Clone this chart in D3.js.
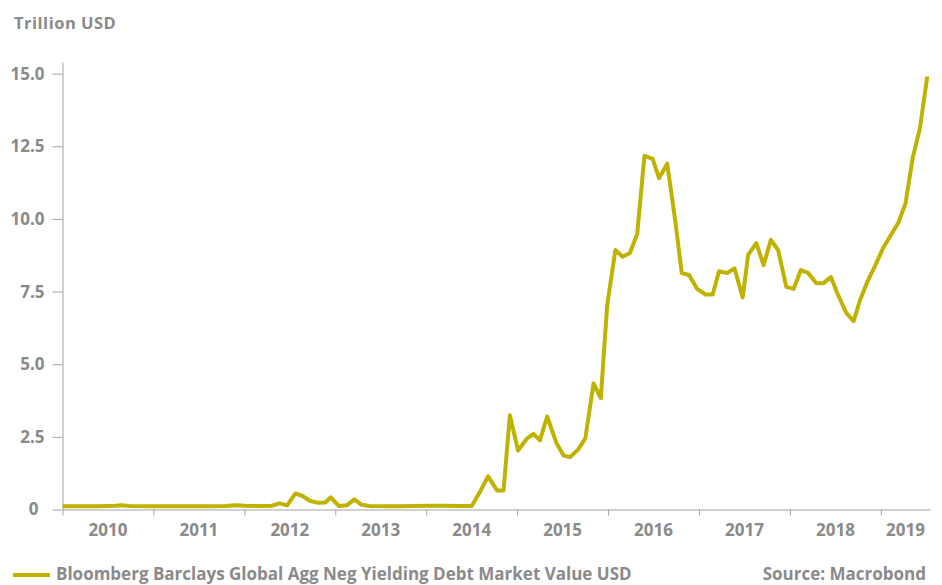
<!DOCTYPE html>
<html>
<head>
<meta charset="utf-8">
<script src="https://cdn.jsdelivr.net/npm/d3@7"></script>
<style>
  html, body { margin: 0; padding: 0; background: #ffffff; }
  svg text { font-family: "Open Sans", "Noto Sans", sans-serif; font-weight: 700; fill: #8a8a8a; }
</style>
</head>
<body>
<svg id="chart" width="942" height="585"></svg>
<script>
// ---- data ----
const years = [
  2010.00, 2010.19, 2010.41, 2010.58, 2010.65, 2010.74, 2010.96, 2011.18, 2011.40, 2011.62,
  2011.79, 2011.90, 2012.01, 2012.17, 2012.30, 2012.39, 2012.47, 2012.56, 2012.63, 2012.72,
  2012.81, 2012.89, 2012.95, 2013.04, 2013.13, 2013.21, 2013.29, 2013.38, 2013.55, 2013.71,
  2013.88, 2014.04, 2014.21, 2014.35, 2014.50, 2014.59, 2014.68, 2014.78, 2014.85, 2014.92,
  2015.01, 2015.11, 2015.18, 2015.25, 2015.33, 2015.43, 2015.51, 2015.58, 2015.67, 2015.75,
  2015.84, 2015.92, 2015.99, 2016.08, 2016.16, 2016.24, 2016.32, 2016.40, 2016.49, 2016.56,
  2016.65, 2016.74, 2016.81, 2016.89, 2016.98, 2017.07, 2017.15, 2017.22, 2017.31, 2017.39,
  2017.48, 2017.54, 2017.63, 2017.71, 2017.79, 2017.87, 2017.96, 2018.04, 2018.12, 2018.20,
  2018.29, 2018.37, 2018.45, 2018.52, 2018.62, 2018.70, 2018.77, 2018.85, 2018.94, 2019.02,
  2019.11, 2019.19, 2019.27, 2019.35, 2019.43, 2019.51
];
const values = [
  0.11, 0.11, 0.11, 0.13, 0.15, 0.12, 0.11, 0.11, 0.11, 0.11,
  0.12, 0.15, 0.13, 0.12, 0.13, 0.21, 0.14, 0.55, 0.48, 0.30,
  0.23, 0.24, 0.42, 0.12, 0.15, 0.35, 0.16, 0.12, 0.11, 0.11,
  0.12, 0.13, 0.13, 0.12, 0.12, 0.60, 1.14, 0.65, 0.65, 3.24,
  2.03, 2.45, 2.60, 2.38, 3.20, 2.30, 1.86, 1.80, 2.06, 2.45,
  4.34, 3.83, 7.03, 8.93, 8.70, 8.83, 9.48, 12.17, 12.07, 11.40,
  11.90, 9.90, 8.14, 8.07, 7.59, 7.40, 7.40, 8.20, 8.14, 8.30,
  7.30, 8.76, 9.17, 8.41, 9.28, 8.93, 7.66, 7.59, 8.24, 8.14,
  7.79, 7.79, 8.00, 7.45, 6.76, 6.48, 7.20, 7.83, 8.41, 8.97,
  9.45, 9.86, 10.52, 12.10, 13.14, 14.90
];
const xTickYears = [2010, 2011, 2012, 2013, 2014, 2015, 2016, 2017, 2018, 2019];
const yTickValues = [0, 2.5, 5, 7.5, 10, 12.5, 15];
const yUnit = "Trillion USD";
const seriesName = "Bloomberg Barclays Global Agg Neg Yielding Debt Market Value USD";
const sourceText = "Source: Macrobond";

// ---- styles ----
const lineColor = "#bfb200";
const axisColor = "#a3a3a3";
const xEnd = 2019.54;

const svg = d3.select("#chart");
const x = d3.scaleLinear().domain([2010, xEnd]).range([62.5, 930]);
const y = d3.scaleLinear().domain([0, 15.4]).range([509.5, 62]);

// y axis
const yAxis = svg.append("g")
  .attr("transform", "translate(62.5,0)")
  .call(d3.axisLeft(y).tickValues(yTickValues).tickSize(10).tickSizeOuter(0).tickPadding(8)
    .tickFormat(d => d === 0 ? "0" : d3.format(".1f")(d)));
yAxis.selectAll("path, line").attr("stroke", axisColor).attr("stroke-width", 1);
yAxis.selectAll("text").attr("font-size", 17).attr("fill", "#8a8a8a")
  .attr("dx", d => d === 0 ? -6 : 0);

// x axis
const xAxis = svg.append("g")
  .attr("transform", "translate(0,509.5)")
  .call(d3.axisBottom(x).tickValues(xTickYears).tickSize(6).tickSizeOuter(0).tickFormat(""));
xAxis.selectAll("path, line").attr("stroke", axisColor).attr("stroke-width", 1);

svg.append("g").selectAll("text")
  .data(xTickYears)
  .join("text")
  .attr("x", d => x((d + Math.min(d + 1, xEnd)) / 2))
  .attr("y", 536)
  .attr("text-anchor", "middle")
  .attr("font-size", 17)
  .text(d => d);

// unit label
svg.append("text")
  .attr("x", 14).attr("y", 28.5)
  .attr("font-size", 16.5)
  .attr("letter-spacing", 0.5)
  .attr("fill", "#7f7f7f")
  .text(yUnit);

// series line
const idx = d3.range(values.length);
svg.append("path")
  .datum(idx)
  .attr("fill", "none")
  .attr("stroke", lineColor)
  .attr("stroke-width", 4)
  .attr("stroke-linejoin", "round")
  .attr("d", d3.line().x(i => x(years[i])).y(i => y(values[i])));

// legend
svg.append("line")
  .attr("x1", 13).attr("x2", 50).attr("y1", 575).attr("y2", 575)
  .attr("stroke", lineColor).attr("stroke-width", 4);
svg.append("text")
  .attr("x", 56).attr("y", 580)
  .attr("font-size", 17)
  .text(seriesName);
svg.append("text")
  .attr("x", 926).attr("y", 580)
  .attr("text-anchor", "end")
  .attr("font-size", 17)
  .text(sourceText);
</script>
</body>
</html>
